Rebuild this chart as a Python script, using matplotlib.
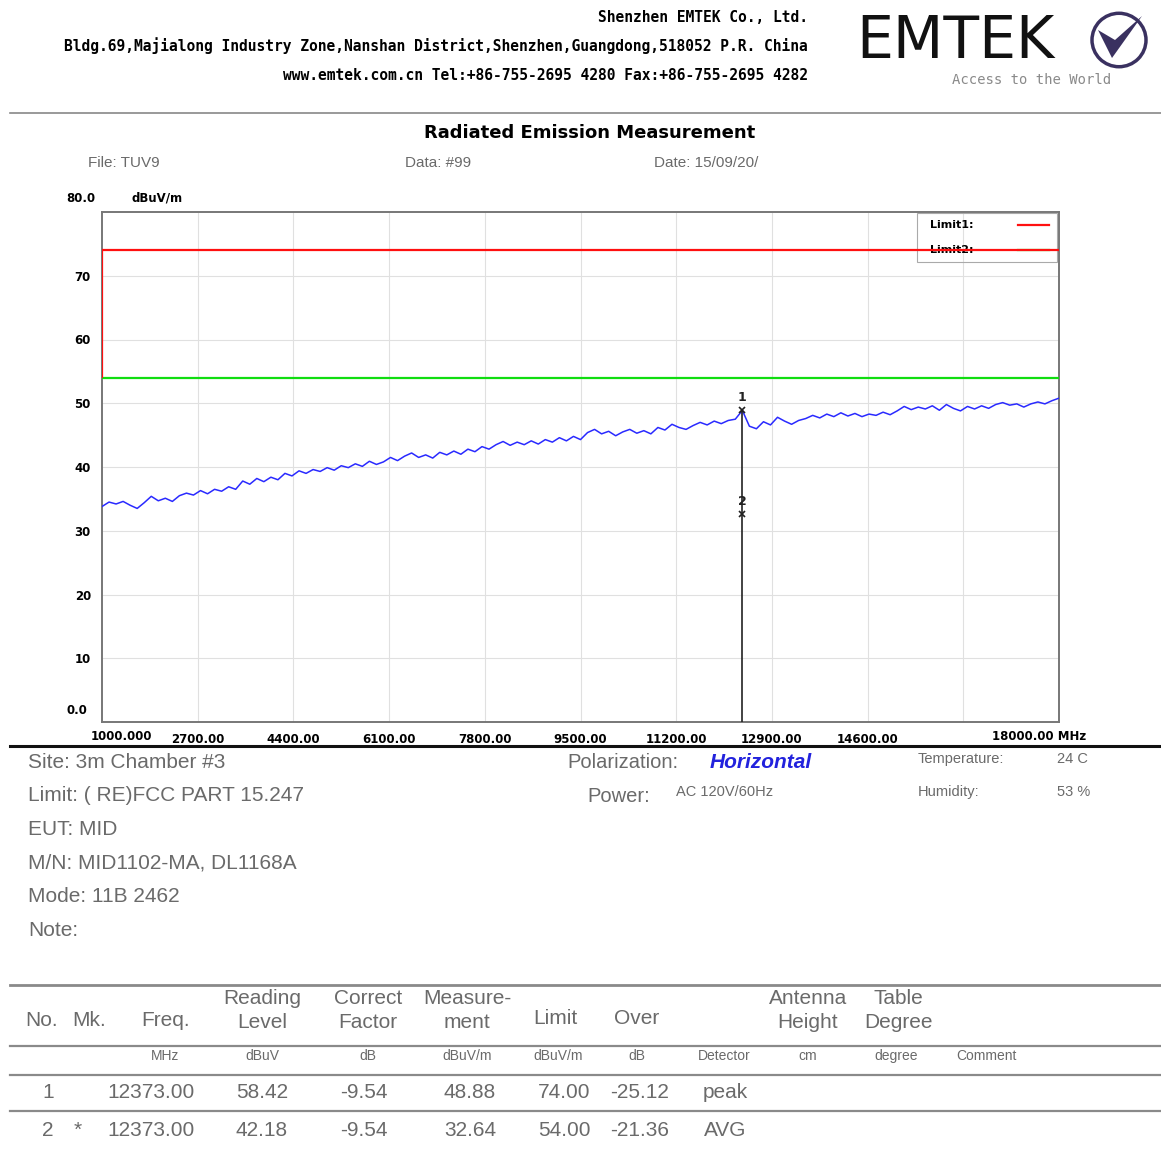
import numpy as np
import matplotlib
matplotlib.use('Agg')
import matplotlib.pyplot as plt
from matplotlib.patches import Circle, Polygon, Rectangle

# ---------- data ----------
freq = np.arange(1000, 18001, 125)          # MHz, scan grid
level = [
    33.8, 34.5, 34.2, 34.6, 34.0, 33.5, 34.4, 35.4, 34.7, 35.1,
    34.6, 35.5, 35.9, 35.6, 36.3, 35.8, 36.5, 36.2, 36.9, 36.5,
    37.8, 37.3, 38.2, 37.7, 38.4, 38.0, 39.0, 38.6, 39.4, 39.0,
    39.6, 39.3, 39.9, 39.5, 40.2, 39.9, 40.5, 40.1, 40.9, 40.4,
    40.8, 41.5, 41.0, 41.7, 42.2, 41.5, 41.9, 41.4, 42.3, 41.9,
    42.5, 42.0, 42.8, 42.4, 43.2, 42.8, 43.5, 44.0, 43.4, 43.9,
    43.5, 44.1, 43.6, 44.3, 43.9, 44.6, 44.1, 44.8, 44.3, 45.4,
    45.9, 45.2, 45.6, 44.9, 45.5, 45.9, 45.3, 45.7, 45.2, 46.2,
    45.8, 46.7, 46.2, 45.9, 46.5, 47.0, 46.6, 47.2, 46.8, 47.3,
    47.5, 48.88, 46.4, 46.0, 47.1, 46.6, 47.8, 47.2, 46.7, 47.3,
    47.6, 48.1, 47.7, 48.3, 47.9, 48.5, 48.0, 48.4, 47.9, 48.3,
    48.1, 48.6, 48.2, 48.8, 49.5, 49.0, 49.4, 49.1, 49.6, 48.9,
    49.8, 49.2, 48.8, 49.5, 49.1, 49.6, 49.2, 49.8, 50.1, 49.7,
    49.9, 49.4, 49.9, 50.2, 49.9, 50.4, 50.8,
]
limit1 = 74.0
limit2 = 54.0
mk_freq = [12373.00, 12373.00]
mk_level = [48.88, 32.64]
mk_label = ['1', '2']

xticks = [2700, 4400, 6100, 7800, 9500, 11200, 12900, 14600, 16300]
xtick_labels = ['2700.00', '4400.00', '6100.00', '7800.00', '9500.00',
                '11200.00', '12900.00', '14600.00', '']
yticks = [10, 20, 30, 40, 50, 60, 70]

tbl_rows = [
    ['1', '', '12373.00', '58.42', '-9.54', '48.88', '74.00', '-25.12', 'peak'],
    ['2', '*', '12373.00', '42.18', '-9.54', '32.64', '54.00', '-21.36', 'AVG'],
]

# ---------- colours ----------
C_TXT = '#6a6a6a'
C_GRID = '#e0e0e0'
C_TRACE = '#2a2aff'
C_RED = '#ff1010'
C_GREEN = '#10dd10'

W, H = 1161, 1149
fig = plt.figure(figsize=(W / 100, H / 100), dpi=100, facecolor='white')

def fx(x): return x / W
def fy(y): return 1 - y / H

def txt(x, y, s, **kw):
    kw.setdefault('va', 'center')
    fig.text(fx(x), fy(y), s, **kw)

def hline(y, x0=10, x1=1161, **kw):
    fig.add_artist(plt.Line2D([fx(x0), fx(x1)], [fy(y), fy(y)], **kw))

MONO = ['DejaVu Sans Mono']
SANS = ['Liberation Sans', 'DejaVu Sans']

# ---------- header ----------
txt(808, 17, 'Shenzhen EMTEK Co., Ltd.', ha='right', family=MONO, fontweight='bold', fontsize=10.5)
txt(808, 46, 'Bldg.69,Majialong Industry Zone,Nanshan District,Shenzhen,Guangdong,518052 P.R. China',
    ha='right', family=MONO, fontweight='bold', fontsize=10.5)
txt(808, 75, 'www.emtek.com.cn Tel:+86-755-2695 4280 Fax:+86-755-2695 4282',
    ha='right', family=MONO, fontweight='bold', fontsize=10.5)
txt(955, 42, 'EMTEK', ha='center', family=['DejaVu Sans'], fontsize=42, color='#111111')
txt(1032, 80, 'Access to the World', ha='center', family=MONO, fontsize=10, color='#8a8a8a')
fig.add_artist(Circle((fx(1119), fy(40)), 27 / W, transform=fig.transFigure,
                      fill=False, edgecolor='#3a3160', linewidth=2.5))
fig.add_artist(Polygon([(fx(1098), fy(30)), (fx(1112), fy(58)), (fx(1142), fy(16)),
                        (fx(1115), fy(40))], closed=True, transform=fig.transFigure,
                       facecolor='#3a3160', edgecolor='none'))
hline(113, color='#888888', linewidth=1.2)

# ---------- title ----------
txt(590, 133, 'Radiated Emission Measurement', ha='center', family=['DejaVu Sans'],
    fontweight='bold', fontsize=13)
txt(88, 163, 'File: TUV9', family=SANS, fontsize=11, color=C_TXT)
txt(405, 163, 'Data: #99', family=SANS, fontsize=11, color=C_TXT)
txt(654, 163, 'Date: 15/09/20/', family=SANS, fontsize=11, color=C_TXT)

# ---------- chart ----------
ax = fig.add_axes([fx(102), fy(722), (1059 - 102) / W, (722 - 212) / H])
ax.set_xlim(1000, 18000)
ax.set_ylim(0, 80)
ax.set_xticks(xticks)
ax.set_xticklabels(xtick_labels, fontsize=8.5, fontweight='bold')
ax.set_yticks(yticks)
ax.set_yticklabels([str(v) for v in yticks], fontsize=8.5, fontweight='bold')
ax.tick_params(length=0, pad=8)
ax.grid(True, color=C_GRID, linewidth=0.8)
for sp in ax.spines.values():
    sp.set_edgecolor('#777777')
    sp.set_linewidth(1.4)

ax.plot(freq, level, color=C_TRACE, linewidth=1.1, zorder=3)
ax.hlines(limit1, 1000, 18000, color=C_RED, linewidth=1.6, zorder=4)
ax.hlines(limit2, 1000, 18000, color=C_GREEN, linewidth=1.6, zorder=4)
ax.vlines(1000, limit2, limit1, color=C_RED, linewidth=1.6, zorder=4)

ax.vlines(mk_freq[0], 0, max(mk_level), color='#222222', linewidth=1.2, zorder=5)
for f, v, lab in zip(mk_freq, mk_level, mk_label):
    ax.plot(f, v, marker='x', color='#222222', markersize=5, mew=1.2, zorder=6)
    ax.annotate(lab, (f, v), xytext=(0, 9), textcoords='offset points', ha='center',
                va='center', fontsize=9, fontweight='bold', color='#222222')

# legend box
ax.add_patch(Rectangle((0.852, 0.902), 0.146, 0.097, transform=ax.transAxes,
                       fill=False, edgecolor='#aaaaaa', linewidth=0.8, zorder=2))
ax.text(0.865, 0.975, 'Limit1:', transform=ax.transAxes, fontsize=8, fontweight='bold', va='center')
ax.text(0.865, 0.926, 'Limit2:', transform=ax.transAxes, fontsize=8, fontweight='bold', va='center')
ax.plot([0.957, 0.990], [0.975, 0.975], transform=ax.transAxes, color=C_RED, linewidth=1.6)
ax.plot([0.957, 0.990], [0.926, 0.926], transform=ax.transAxes, color=C_GREEN, linewidth=1.6)

txt(81, 198, '80.0', ha='center', fontsize=8.5, fontweight='bold')
txt(157, 198, 'dBuV/m', ha='center', fontsize=8.5, fontweight='bold')
txt(77, 710, '0.0', ha='center', fontsize=8.5, fontweight='bold')
txt(121, 737, '1000.000', ha='center', fontsize=8.5, fontweight='bold')
txt(1039, 737, '18000.00 MHz', ha='center', fontsize=8.5, fontweight='bold')
hline(746, color='#111111', linewidth=2.2)

# ---------- test info ----------
info = ['Site: 3m Chamber #3', 'Limit: ( RE)FCC PART 15.247', 'EUT: MID',
        'M/N: MID1102-MA, DL1168A', 'Mode: 11B 2462', 'Note:']
for i, s in enumerate(info):
    txt(28, 762 + i * 33.7, s, family=SANS, fontsize=15, color=C_TXT)
txt(567, 762, 'Polarization:', family=SANS, fontsize=14.5, color=C_TXT)
txt(710, 763, 'Horizontal', family=SANS, fontsize=15, fontweight='bold', style='italic', color='#2222dd')
txt(587, 796, 'Power:', family=SANS, fontsize=14.5, color=C_TXT)
txt(676, 792, 'AC 120V/60Hz', family=SANS, fontsize=10.5, color=C_TXT)
txt(918, 759, 'Temperature:', family=SANS, fontsize=10.5, color=C_TXT)
txt(1057, 759, '24 C', family=SANS, fontsize=10.5, color=C_TXT)
txt(918, 792, 'Humidity:', family=SANS, fontsize=10.5, color=C_TXT)
txt(1057, 792, '53 %', family=SANS, fontsize=10.5, color=C_TXT)

# ---------- result table ----------
hline(985, color='#8a8a8a', linewidth=2.0)
hline(1046, color='#8a8a8a', linewidth=1.6)
hline(1075, color='#8a8a8a', linewidth=1.6)
hline(1111, color='#8a8a8a', linewidth=1.6)

head_kw = dict(family=SANS, fontsize=15, color=C_TXT, ha='center')
txt(42, 1020, 'No.', **head_kw)
txt(89, 1020, 'Mk.', **head_kw)
txt(166, 1020, 'Freq.', **head_kw)
txt(262, 998, 'Reading', **head_kw); txt(262, 1022, 'Level', **head_kw)
txt(368, 998, 'Correct', **head_kw); txt(368, 1022, 'Factor', **head_kw)
txt(467, 998, 'Measure-', **head_kw); txt(467, 1022, 'ment', **head_kw)
txt(555, 1018, 'Limit', **head_kw)
txt(637, 1018, 'Over', **head_kw)
txt(808, 998, 'Antenna', **head_kw); txt(808, 1022, 'Height', **head_kw)
txt(898, 998, 'Table', **head_kw); txt(898, 1022, 'Degree', **head_kw)

units = ['MHz', 'dBuV', 'dB', 'dBuV/m', 'dBuV/m', 'dB', 'Detector', 'cm', 'degree', 'Comment']
unit_x = [165, 262, 368, 467, 558, 637, 724, 808, 896, 986]
for u, x in zip(units, unit_x):
    txt(x, 1056, u, family=SANS, fontsize=10, color=C_TXT, ha='center')

col_x = [48, 78, 151, 262, 364, 470, 564, 640, 725]
for r, row in enumerate(tbl_rows):
    y = 1092 + r * 38
    for s, x in zip(row, col_x):
        txt(x, y, s, family=SANS, fontsize=15, color=C_TXT, ha='center')

fig.savefig('out.png', dpi=100, facecolor='white')
